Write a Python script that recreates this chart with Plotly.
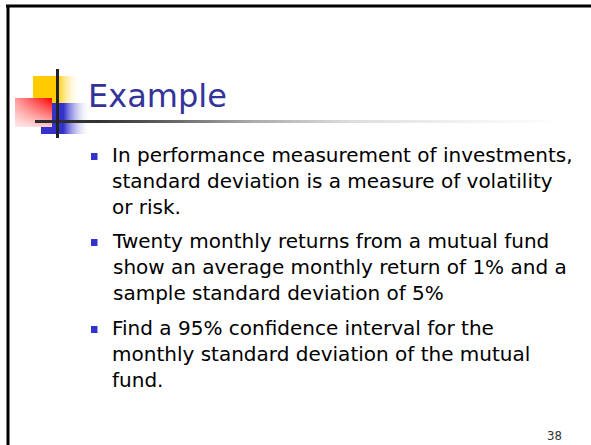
import plotly.graph_objects as go

# ---- slide content ----
title_text = "Example"
bullet_lines = [
    ["In performance measurement of investments,",
     "standard deviation is a measure of volatility",
     "or risk."],
    ["Twenty monthly returns from a mutual fund",
     "show an average monthly return of 1% and a",
     "sample standard deviation of 5%"],
    ["Find a 95% confidence interval for the",
     "monthly standard deviation of the mutual",
     "fund."],
]
page_number = "38"

W, H = 591, 445
TITLE_COLOR = "#333399"
BULLET_COLOR = "#3333CC"
BODY_FONT = "Tahoma, DejaVu Sans, Verdana, sans-serif"

fig = go.Figure()


def grad_rect(x0, x1, y0, y1, orient, scale):
    fig.add_trace(go.Scatter(
        x=[x0, x1, x1, x0, x0], y=[y0, y0, y1, y1, y0],
        mode="none", fill="toself",
        fillgradient=dict(type=orient, colorscale=scale),
        hoverinfo="skip", showlegend=False))


# logo: yellow, blue, red squares with gradients
grad_rect(33, 81, 76, 104, "horizontal",
          [[0, "#FFCC00"], [0.5, "#FFCC00"], [1, "rgba(255,255,255,0)"]])
grad_rect(41, 91, 103, 134, "horizontal",
          [[0, "#3333CC"], [0.45, "#3333CC"], [1, "rgba(255,255,255,0)"]])
grad_rect(15, 52, 98, 127, "horizontal",
          [[0, "#FF9A9A"], [1, "#FF0000"]])
grad_rect(15, 52, 98, 127, "vertical",
          [[0, "rgba(255,255,255,0.8)"], [1, "rgba(255,255,255,0)"]])
# horizontal rule under title (gradient)
grad_rect(35, 562, 120, 123, "horizontal",
          [[0, "#2a2a2a"], [0.12, "#333333"], [0.22, "#555555"],
           [0.41, "#aaaaaa"], [0.6, "#dddddd"], [0.8, "#f0f0f0"], [1, "#ffffff"]])

shapes = [
    # slide frame (top + left)
    dict(type="line", x0=6, x1=W + 10, y0=6, y1=6, line=dict(color="black", width=3)),
    dict(type="line", x0=8, x1=8, y0=5, y1=H + 10, line=dict(color="black", width=3)),
    # vertical logo bar
    dict(type="line", x0=57.5, x1=57.5, y0=69, y1=138, line=dict(color="#222222", width=3)),
]

annotations = [
    dict(text=title_text, x=86, y=74.5, xref="x", yref="y", xanchor="left", yanchor="top",
         showarrow=False, font=dict(family=BODY_FONT, size=32, color=TITLE_COLOR)),
    dict(text=page_number, x=554, y=435, xref="x", yref="y", xanchor="center", yanchor="middle",
         showarrow=False, font=dict(family="Liberation Sans Narrow, DejaVu Sans Condensed, sans-serif",
                                    size=13, color="#333333")),
]

first_baselines = [161, 247, 334]
for lines, base in zip(bullet_lines, first_baselines):
    annotations.append(dict(
        text="<br>".join(lines), x=110, y=base - 19.6, xref="x", yref="y",
        xanchor="left", yanchor="top", align="left", showarrow=False,
        font=dict(family=BODY_FONT, size=20, color="black")))
    shapes.append(dict(type="rect", x0=91, x1=97.5, y0=base - 8, y1=base - 1,
                       fillcolor=BULLET_COLOR, line=dict(width=0)))

fig.update_layout(
    width=W, height=H, autosize=False,
    margin=dict(l=0, r=0, t=0, b=0),
    paper_bgcolor="white", plot_bgcolor="white",
    xaxis=dict(range=[0, W], visible=False, fixedrange=True),
    yaxis=dict(range=[H, 0], visible=False, fixedrange=True),
    shapes=shapes, annotations=annotations, showlegend=False,
)

fig.write_html("out.html", config={"displayModeBar": False},
               post_script="document.body.style.margin='0';document.body.style.overflow='hidden';")
